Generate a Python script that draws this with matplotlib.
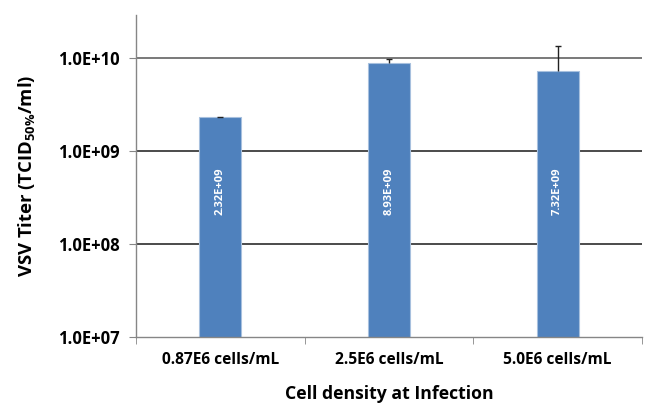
import matplotlib
matplotlib.use("Agg")
import matplotlib.pyplot as plt
import numpy as np

categories = ["0.87E6 cells/mL", "2.5E6 cells/mL", "5.0E6 cells/mL"]
values = [2.32e9, 8.93e9, 7.32e9]
errors_up = [0.03e9, 0.93e9, 6.1e9]
value_labels = ["2.32E+09", "8.93E+09", "7.32E+09"]
ytick_vals = [1e7, 1e8, 1e9, 1e10]
ytick_labels = ["1.0E+07", "1.0E+08", "1.0E+09", "1.0E+10"]

FONT = 'Open Sans'
plt.rcParams['font.family'] = [FONT, 'DejaVu Sans']
plt.rcParams['mathtext.fontset'] = 'custom'
plt.rcParams['mathtext.rm'] = FONT + ':bold'
plt.rcParams['mathtext.bf'] = FONT + ':bold'
plt.rcParams['mathtext.it'] = FONT + ':bold'
plt.rcParams['mathtext.default'] = 'regular'

fig = plt.figure(figsize=(6.49, 4.03), dpi=100)
ax = fig.add_axes([136/649, 1-336.7/403, (642-136)/649, (336.7-15)/403])

x = np.arange(len(categories))
ax.set_yscale('log')
ax.set_ylim(1e7, 10**(10 + 43.3/92.8))
ax.set_xlim(-0.5, len(categories) - 0.5)

for yv in ytick_vals[1:]:
    ax.axhline(yv, color='#1a1a1a' if yv < 1e10 else '#555555', lw=1.1, zorder=1)

ax.bar(x, values, width=0.25, color='#4F81BD', edgecolor='#A7C0DE', linewidth=0.8, zorder=2)
eb = ax.errorbar(x, values, yerr=[[0]*len(values), errors_up], fmt='none', ecolor='#222222',
                 elinewidth=1, capsize=2, capthick=1, zorder=3)
eb[1][0].set_visible(False)

for xi, lab in zip(x, value_labels):
    ax.text(xi, 0.453, lab, transform=ax.get_xaxis_transform(), rotation=90,
            ha='center', va='center', color='white', fontsize=8, fontweight='bold', zorder=4)

ax.set_yticks(ytick_vals)
ax.set_yticklabels(ytick_labels, fontsize=12, fontweight='bold')
ax.yaxis.set_minor_locator(matplotlib.ticker.NullLocator())
ax.set_xticks(x)
ax.set_xticklabels(categories, fontsize=11.2, fontweight='bold')
ax.set_xticks([-0.5, 0.5, 1.5, 2.5], minor=True)
ax.tick_params(axis='x', which='major', length=0, pad=11)
ax.tick_params(axis='x', which='minor', length=5, color='#868686', direction='out')
ax.tick_params(axis='y', which='major', length=5, color='#868686', direction='out', pad=7)

for s in ['top', 'right']:
    ax.spines[s].set_visible(False)
for s in ['left', 'bottom']:
    ax.spines[s].set_color('#868686')
    ax.spines[s].set_linewidth(1)

ax.set_xlabel("Cell density at Infection", fontsize=12.7, fontweight='bold', labelpad=12)
ax.set_ylabel("VSV Titer (TCID$_{50\\%}$/ml)", fontsize=13.3, fontweight='bold', labelpad=15)

fig.savefig("out.png", dpi=100)
